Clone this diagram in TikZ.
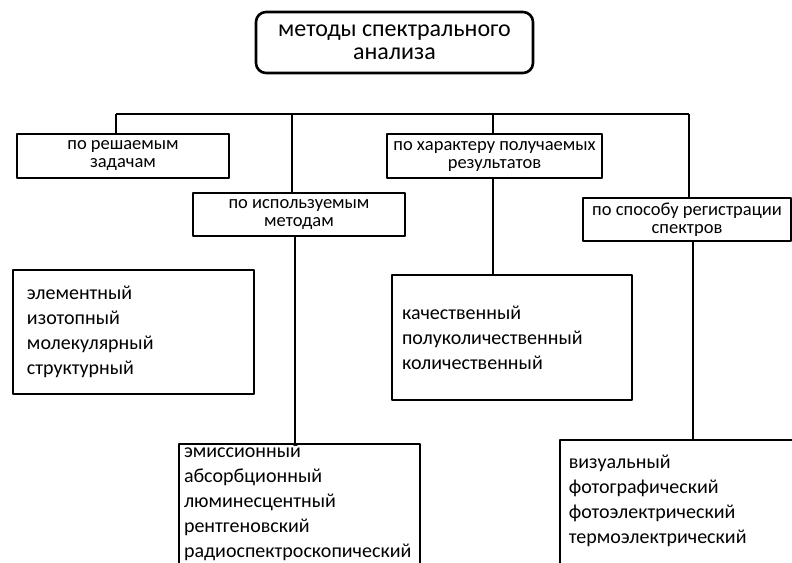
\documentclass[tikz,border=0pt]{standalone}
\usepackage{fontspec}
\setmainfont{Carlito}
\tikzset{
  head/.style={draw,line width=2.6pt,align=center,inner sep=0pt,
    font=\fontsize{18.5}{18}\selectfont},
  list/.style={draw,line width=1.6pt,align=left,
    font=\fontsize{20}{25}\selectfont},
  link/.style={line width=1.3pt}
}
\begin{document}
\begin{tikzpicture}[x=1pt,y=-1pt,line join=round]
\useasboundingbox (0,0) rectangle (792,562);
\clip (0,0) rectangle (792,562);

% ---- title ----
\node[draw,line width=2.6pt,rounded corners=10pt,align=center,
      minimum width=277pt,minimum height=61pt,inner sep=0pt,
      font=\fontsize{24}{23.5}\selectfont] (title) at (394.5,42.5)
  {методы спектрального\\анализа};

% ---- the four criteria ----
\node[head,minimum width=212pt,minimum height=44pt] (task) at (123,156)
  {по решаемым\\задачам};
\node[head,minimum width=212pt,minimum height=43pt] (method) at (299,214.5)
  {по используемым\\методам};
\node[head,minimum width=215pt,minimum height=44pt] (result) at (494.5,156)
  {по характеру получаемых\\результатов};
\node[head,minimum width=208pt,minimum height=43pt] (record) at (687,219.5)
  {по способу регистрации\\спектров};

% ---- the lists ----
\node[list,minimum width=241pt,minimum height=124pt,text width=213pt,
      inner xsep=14pt] (tasklist) at (133.5,332)
  {элементный\\изотопный\\молекулярный\\структурный};
\node[list,anchor=north,text width=231pt,inner xsep=5pt,inner ysep=0pt,
      text depth=150pt] (methlist) at (299.5,443)
  {эмиссионный\\абсорбционный\\люминесцентный\\рентгеновский\\радиоспектроскопический};
\node[list,minimum width=240pt,minimum height=125pt,text width=220pt,
      inner xsep=10pt] (reslist) at (512,337.5)
  {качественный\\полуколичественный\\количественный};
\node[list,anchor=north west,text width=240pt,inner xsep=9pt,inner ysep=15pt,
      text depth=150pt] (reclist) at (559,439)
  {визуальный\\фотографический\\фотоэлектрический\\термоэлектрический};

% ---- connectors ----
\foreach \x/\n in {116/a,292/b,493/c,689/d}
  \coordinate (bus\n) at (\x,114);
\draw[link] (busa) -- (busd);
\draw[link] (busa) -- (busa |- task.north);
\draw[link] (busb) -- (busb |- method.north);
\draw[link] (busc) -- (busc |- result.north);
\draw[link] (busd) -- (busd |- record.north);
\draw[link] ([xshift=-4pt]method.south) -- ([xshift=-4pt]method.south |- methlist.north);
\draw[link] ([xshift=-1.5pt]result.south) -- ([xshift=-1.5pt]result.south |- reslist.north);
\draw[link] ([xshift=6pt]record.south) -- ([xshift=6pt]record.south |- reclist.north);
\end{tikzpicture}
\end{document}
